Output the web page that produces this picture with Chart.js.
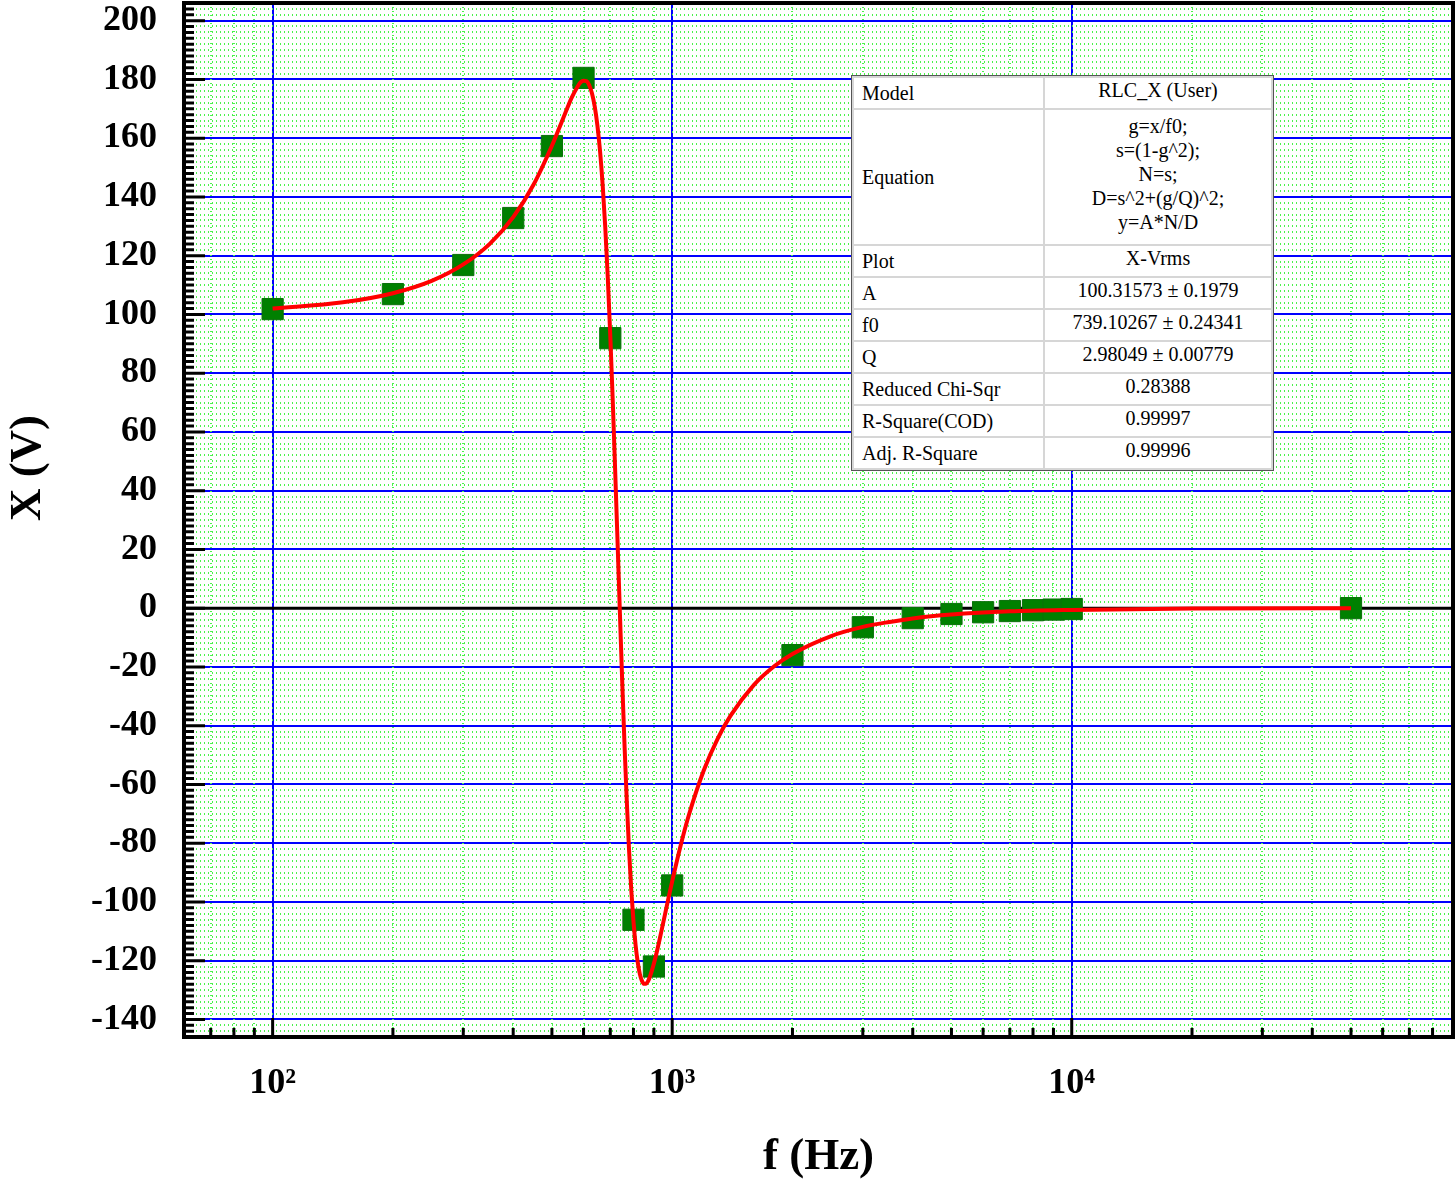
<!DOCTYPE html>
<html>
<head>
<meta charset="utf-8">
<script src="https://cdn.jsdelivr.net/npm/chart.js@4.4.1/dist/chart.umd.min.js"></script>
<style>
body { margin: 0; background: #fff; }
#wrap { position: relative; width: 1455px; height: 1184px; }
#fit {
    position: absolute; left: 852px; top: 76px; width: 419px;
    border-collapse: collapse; table-layout: fixed; background: #fff;
    font-family: "Liberation Serif", serif; font-size: 20px; color: #000;
    outline: 1px solid #555;
}
#fit td { border: 2px solid #d6d6d6; padding: 0 8px; line-height: 24px; vertical-align: middle; white-space: nowrap; }
#fit td.v { text-align: center; padding-bottom: 6px; }
</style>
</head>
<body>
<div id="wrap">
<canvas id="rlc-chart"></canvas>
<table id="fit">
    <colgroup><col style="width:191px"><col style="width:228px"></colgroup>
    <tr style="height:32px"><td>Model</td><td class="v">RLC_X (User)</td></tr>
    <tr style="height:136px"><td>Equation</td><td class="v">g=x/f0;<br>s=(1-g^2);<br>N=s;<br>D=s^2+(g/Q)^2;<br>y=A*N/D</td></tr>
    <tr style="height:32px"><td>Plot</td><td class="v">X-Vrms</td></tr>
    <tr style="height:31px"><td>A</td><td class="v">100.31573 ± 0.1979</td></tr>
    <tr style="height:31px"><td>f0</td><td class="v">739.10267 ± 0.24341</td></tr>
    <tr style="height:32px"><td>Q</td><td class="v">2.98049 ± 0.00779</td></tr>
    <tr style="height:32px"><td>Reduced Chi-Sqr</td><td class="v">0.28388</td></tr>
    <tr style="height:31px"><td>R-Square(COD)</td><td class="v">0.99997</td></tr>
    <tr style="height:32px"><td>Adj. R-Square</td><td class="v">0.99996</td></tr>
</table>
</div>
<script>
// measured points (Hz, V)
var freq = [100, 200, 300, 400, 500, 600, 700, 800, 900, 1000,
            2000, 3000, 4000, 5000, 6000, 7000, 8000, 9000, 10000, 50000];
var reactance = [101.8, 106.9, 116.8, 132.8, 157.3, 180.5, 91.9, -106.1, -122.0, -94.4,
                 -16.0, -6.5, -3.4, -2.0, -1.4, -1.0, -0.7, -0.5, -0.3, 0.0];

// fitted curve
var fitFreq = [100, 150, 200, 250, 300, 350, 400, 450, 500, 520, 550, 560, 580, 590, 600,
               610, 620, 630, 640, 650, 660, 670, 680, 690, 700, 710, 720, 730, 740, 750,
               760, 770, 780, 790, 800, 810, 820, 830, 840, 850, 860, 870, 880, 900, 920,
               950, 980, 1000, 1050, 1100, 1200, 1300, 1400, 1600, 1800, 2000, 2500, 3000,
               3500, 4000, 5000, 7000, 10000, 20000, 50000];
var fitX = [102.0, 104.1, 107.2, 111.4, 117.0, 124.1, 133.1, 144.2, 157.4, 163.0, 171.2, 173.7, 177.6, 179.0, 179.5,
            179.4, 178.0, 175.2, 170.7, 164.2, 155.4, 143.9, 129.6, 112.4, 92.6, 70.5, 46.7, 22.3, -2.1, -25.5,
            -47.0, -66.1, -82.5, -96.0, -106.6, -114.8, -120.6, -124.6, -126.9, -127.9, -127.9, -127.0, -125.4, -121.0, -115.7,
            -107.0, -98.4, -93.0, -80.8, -70.6, -55.2, -44.4, -36.6, -26.2, -19.8, -15.6, -9.5, -6.4,
            -4.7, -3.5, -2.2, -1.1, -0.6, -0.1, 0.0];

var xTicks = [100, 1000, 10000];
var xTickLabels = ['10²', '10³', '10⁴'];
var yTicks = [-140, -120, -100, -80, -60, -40, -20, 0, 20, 40, 60, 80, 100, 120, 140, 160, 180, 200];

var serif = '"Liberation Serif", "Times New Roman", serif';

// minor tick values for the log axis (2..9 per decade) and the y axis (every 2)
var xMinor = [];
for (let d = 10; d <= 10000; d *= 10) {
    for (let m = 2; m <= 9; m++) {
        if (d * m >= 60 && d * m <= 90000) xMinor.push(d * m);
    }
}
var yMinor = [];
for (let v = -144; v <= 204; v += 2) {
    if (v % 20 !== 0) yMinor.push(v);
}

const originFrame = {
    id: 'originFrame',
    beforeDatasetsDraw(chart) {
        const {ctx, chartArea: a, scales: {x, y}} = chart;
        ctx.save();
        // dotted minor grid
        ctx.strokeStyle = '#4cf24c';
        ctx.lineWidth = 2;
        ctx.setLineDash([1, 3]);
        ctx.beginPath();
        yMinor.forEach(v => {
            const py = Math.round(y.getPixelForValue(v));
            ctx.moveTo(a.left, py); ctx.lineTo(a.right, py);
        });
        xMinor.forEach(v => {
            const px = Math.round(x.getPixelForValue(v));
            ctx.moveTo(px, a.top); ctx.lineTo(px, a.bottom);
        });
        ctx.stroke();
        ctx.setLineDash([]);
        // zero line
        const y0 = y.getPixelForValue(0);
        ctx.strokeStyle = '#000';
        ctx.lineWidth = 3;
        ctx.beginPath();
        ctx.moveTo(a.left, y0); ctx.lineTo(a.right, y0);
        ctx.stroke();
        ctx.restore();
    },
    afterDraw(chart) {
        const {ctx, chartArea: a, scales: {x, y}} = chart;
        ctx.save();
        ctx.strokeStyle = '#000';
        ctx.lineWidth = 3;
        ctx.beginPath();
        // inward ticks, left axis
        yTicks.forEach(v => {
            const py = y.getPixelForValue(v);
            ctx.moveTo(a.left, py); ctx.lineTo(a.left + 21, py);
        });
        yMinor.forEach(v => {
            const py = y.getPixelForValue(v);
            ctx.moveTo(a.left, py); ctx.lineTo(a.left + 10, py);
        });
        // inward ticks, bottom axis
        xTicks.forEach(v => {
            const px = x.getPixelForValue(v);
            ctx.moveTo(px, a.bottom); ctx.lineTo(px, a.bottom - 19);
        });
        xMinor.forEach(v => {
            const px = x.getPixelForValue(v);
            ctx.moveTo(px, a.bottom); ctx.lineTo(px, a.bottom - 9);
        });
        ctx.stroke();
        // frame
        ctx.lineWidth = 4;
        ctx.strokeRect(a.left, a.top, a.right - a.left, a.bottom - a.top);
        // y title
        ctx.fillStyle = '#000';
        ctx.font = 'bold 45px ' + serif;
        ctx.textAlign = 'center';
        ctx.textBaseline = 'middle';
        ctx.translate(28, 468);
        ctx.rotate(-Math.PI / 2);
        ctx.fillText('X (V)', 0, 0);
        ctx.restore();
    }
};

function noPad(s) {
    s.paddingTop = 0; s.paddingBottom = 0;
    s.paddingLeft = 0; s.paddingRight = 0;
}

var ctx = document.getElementById('rlc-chart');
const myChart = new Chart(ctx, {
    type: 'scatter',
    data: {
        datasets: [{
            data: fitFreq.map((f, i) => ({x: f, y: fitX[i]})),
            showLine: true,
            borderColor: '#ff0000',
            borderWidth: 4,
            pointRadius: 0,
            cubicInterpolationMode: 'monotone',
            label: 'Fit'
        },
        {
            data: freq.map((f, i) => ({x: f, y: reactance[i]})),
            pointStyle: 'rect',
            pointRadius: 15,
            backgroundColor: '#008000',
            borderColor: '#0b700b',
            borderWidth: 1,
            label: 'X-Vrms'
        }]
    },
    options: {
        responsive: true,
        maintainAspectRatio: false,
        animation: false,
        layout: { autoPadding: false, padding: { top: 3, right: 2, left: 0, bottom: 0 } },
        plugins: {
            legend: { display: false },
            tooltip: { enabled: false }
        },
        scales: {
            x: {
                type: 'logarithmic',
                position: 'bottom',
                min: 60,
                max: 90000,
                afterBuildTicks: s => { s.ticks = xTicks.map(v => ({value: v})); },
                afterFit: s => { s.height = 147; noPad(s); },
                grid: { color: '#0000ff', lineWidth: 2, drawTicks: false },
                border: { display: false },
                ticks: {
                    color: '#000',
                    font: { family: serif, size: 36, weight: 'bold' },
                    padding: 25,
                    maxRotation: 0,
                    autoSkip: false,
                    callback: (v, i) => xTickLabels[i]
                },
                title: {
                    display: true,
                    text: 'f (Hz)',
                    color: '#000',
                    font: { family: serif, size: 45, weight: 'bold' },
                    padding: 0
                }
            },
            y: {
                min: -146,
                max: 206,
                afterBuildTicks: s => { s.ticks = yTicks.map(v => ({value: v})); },
                afterFit: s => { s.width = 184; noPad(s); },
                grid: { color: '#0000ff', lineWidth: 2, drawTicks: false },
                border: { display: false },
                ticks: {
                    color: '#000',
                    font: { family: serif, size: 36, weight: 'bold' },
                    padding: 27,
                    callback: v => String(v)
                }
            }
        }
    },
    plugins: [originFrame]
});
</script>
</body>
</html>
